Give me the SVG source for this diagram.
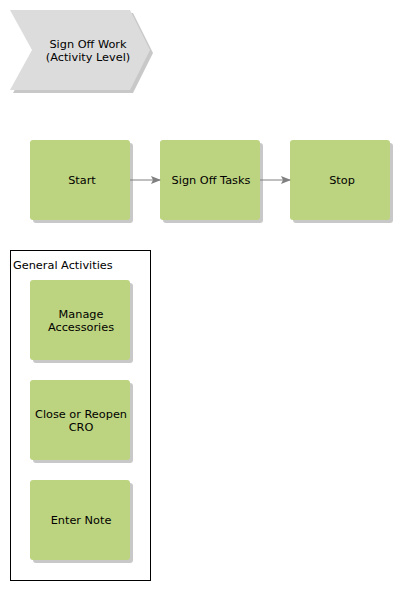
<svg xmlns="http://www.w3.org/2000/svg" width="400" height="590" viewBox="0 0 400 590">
<defs>
<style>
text{font-family:"DejaVu Sans","Verdana",sans-serif;font-size:11.3px;fill:#000;text-anchor:middle}
.box{fill:#bcd37f}
.sh{fill:#c8c8c8}
.conn{stroke:#808080;stroke-width:1;fill:none}
</style>
<marker id="arr" markerWidth="10" markerHeight="8" refX="9" refY="4" orient="auto" markerUnits="userSpaceOnUse">
<path d="M0,0 L10,4 L0,8 L2,4 Z" fill="#808080"/>
</marker>
</defs>
<rect width="400" height="590" fill="#fff"/>
<g id="header">
<polygon points="13,13 133,13 153,53 133,93 13,93 35,53" fill="#c8c8c8"/>
<polygon points="10,10 130,10 150,50 130,90 10,90 32,50" fill="#dcdcdc"/>
<text x="88" y="48">Sign Off Work</text>
<text x="88" y="61">(Activity Level)</text>
</g>
<g id="general">
<rect x="10.5" y="250.5" width="140" height="330" fill="none" stroke="#000" stroke-width="1"/>
<text x="13" y="269" style="text-anchor:start">General Activities</text>
</g>
<g id="start">
<rect class="sh" x="33" y="143" width="100" height="80" rx="3"/>
<rect class="box" x="30" y="140" width="100" height="80" rx="3"/>
<text x="82" y="184">Start</text>
</g>
<g id="signoff">
<rect class="sh" x="163" y="143" width="100" height="80" rx="3"/>
<rect class="box" x="160" y="140" width="100" height="80" rx="3"/>
<text x="211" y="184">Sign Off Tasks</text>
</g>
<g id="stop">
<rect class="sh" x="293" y="143" width="100" height="80" rx="3"/>
<rect class="box" x="290" y="140" width="100" height="80" rx="3"/>
<text x="342" y="184">Stop</text>
</g>
<g id="manage">
<rect class="sh" x="33" y="283" width="100" height="80" rx="3"/>
<rect class="box" x="30" y="280" width="100" height="80" rx="3"/>
<text x="81" y="318">Manage</text>
<text x="81" y="331">Accessories</text>
</g>
<g id="close">
<rect class="sh" x="33" y="383" width="100" height="80" rx="3"/>
<rect class="box" x="30" y="380" width="100" height="80" rx="3"/>
<text x="81" y="418">Close or Reopen</text>
<text x="81" y="431">CRO</text>
</g>
<g id="note">
<rect class="sh" x="33" y="483" width="100" height="80" rx="3"/>
<rect class="box" x="30" y="480" width="100" height="80" rx="3"/>
<text x="81" y="524">Enter Note</text>
</g>
<g id="connectors">
<line class="conn" x1="130" y1="180" x2="160" y2="180" marker-end="url(#arr)"/>
<line class="conn" x1="260" y1="180" x2="290" y2="180" marker-end="url(#arr)"/>
</g>
</svg>
